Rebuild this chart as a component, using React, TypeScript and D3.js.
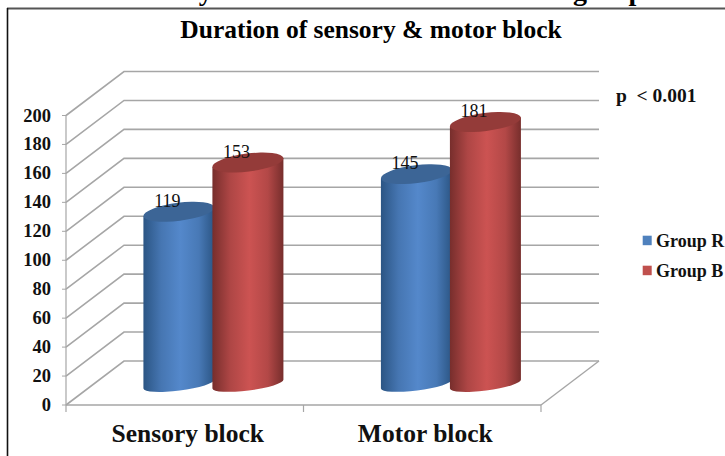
import * as d3 from 'd3'

const categories = ['Sensory block', 'Motor block']
const seriesNames = ['Group R', 'Group B']
const groupR = [119, 145]
const groupB = [153, 181]
const yTicks = [0, 20, 40, 60, 80, 100, 120, 140, 160, 180, 200]

const serif = '"Liberation Serif", serif'
const gridColor = '#a6a6a6'

// floor depth of the 3d box, and how far into it the cylinders stand
const depthX = 58
const depthY = 44
const barDepth = 0.477
const barWidth = 71
const tilt = 4.5
const capRy = 9
const bottomRy = 6.5

const x = d3.scaleBand().domain(categories).range([66, 541])
const y = d3.scaleLinear().domain([0, 200]).range([405, 115.5])

function cylinder(cx: number, top: number, bottom: number) {
  const left = cx - barWidth / 2
  const right = cx + barWidth / 2
  const rx = Math.hypot(barWidth / 2, tilt)
  const angle = (-Math.atan2(tilt, barWidth / 2) * 180) / Math.PI
  const capArc = `${rx} ${capRy} ${angle}`
  const bottomArc = `${rx} ${bottomRy} ${angle}`
  return {
    body: `M${left},${top + tilt} L${left},${bottom + tilt} A${bottomArc} 0 0 ${right},${bottom - tilt} L${right},${top - tilt} Z`,
    cap: `M${left},${top + tilt} A${capArc} 0 1 ${right},${top - tilt} A${capArc} 0 1 ${left},${top + tilt} Z`,
  }
}

const seriesStyles = [
  { values: groupR, edge: '#2b5584', mid: '#5488cb', cap: '#3c6596', key: '#4f81bd', shift: -33.5 },
  { values: groupB, edge: '#772e2c', mid: '#cc5352', cap: '#943b39', key: '#c0504d', shift: 35.5 },
]

export default function App() {
  const base = y(0) - depthY * barDepth
  const bandCenter = (c: string) => (x(c) ?? 0) + x.bandwidth() / 2 + depthX * barDepth

  return (
    <svg
      width={725}
      height={456}
      viewBox="0 0 725 456"
      style={{ position: 'absolute', left: 0, top: 0, display: 'block', background: '#fff' }}
      fontFamily={serif}
    >
      <defs>
        {seriesStyles.map((s, i) => (
          <linearGradient key={i} id={`cyl-${i}`} x1="0" x2="1" y1="0" y2="0">
            <stop offset="0%" stopColor={s.edge} />
            <stop offset="25%" stopColor={d3.interpolateRgb(s.edge, s.mid)(0.65)} />
            <stop offset="52%" stopColor={s.mid} />
            <stop offset="78%" stopColor={d3.interpolateRgb(s.edge, s.mid)(0.7)} />
            <stop offset="100%" stopColor={s.edge} />
          </linearGradient>
        ))}
      </defs>

      {/* caption of the page, cut off by the crop */}
      <text x={655} y={-0.5} textAnchor="end" fontSize={28} fontWeight="bold" fill="#000">
        Duration of sensory and motor block between the groups
      </text>

      {/* frame */}
      <line x1={7} x2={725} y1={8.5} y2={8.5} stroke="#555" strokeWidth={2} />
      <line x1={7.5} x2={7.5} y1={8} y2={456} stroke="#111" strokeWidth={1.6} />

      <text x={371} y={38} textAnchor="middle" fontSize={25.5} fontWeight="bold" fill="#000">
        Duration of sensory &amp; motor block
      </text>

      {/* walls */}
      {yTicks.map((t) => (
        <g key={t} fill="none" stroke={gridColor}>
          <polyline
            points={`${x.range()[0]},${y(t)} ${x.range()[0] + depthX},${y(t) - depthY} ${x.range()[1] + depthX},${y(t) - depthY}`}
            strokeWidth={1.6}
          />
          <line x1={x.range()[0] - 4} x2={x.range()[0]} y1={y(t)} y2={y(t)} strokeWidth={1} />
        </g>
      ))}
      <line x1={66} x2={66} y1={y(200)} y2={y(0) + 7} stroke={gridColor} strokeWidth={1.2} />
      <line x1={66} x2={541} y1={y(0)} y2={y(0)} stroke={gridColor} strokeWidth={1.6} />
      <line
        x1={x.range()[1]}
        x2={x.range()[1] + depthX}
        y1={y(0)}
        y2={y(0) - depthY}
        stroke={gridColor}
        strokeWidth={1.4}
      />
      {categories.map((c) => (
        <line
          key={c}
          x1={(x(c) ?? 0) + x.bandwidth()}
          x2={(x(c) ?? 0) + x.bandwidth()}
          y1={y(0)}
          y2={y(0) + 7}
          stroke={gridColor}
          strokeWidth={1.2}
        />
      ))}

      {yTicks.map((t) => (
        <text key={t} x={51} y={y(t) + 6} textAnchor="end" fontSize={18.5} fontWeight="bold" fill="#111">
          {t}
        </text>
      ))}

      {/* cylinders, blue first so red overlaps it */}
      {seriesStyles.map((s, i) =>
        categories.map((c, j) => {
          const cx = bandCenter(c) + s.shift
          const top = base - (y(0) - y(s.values[j]))
          const shape = cylinder(cx, top, base)
          return (
            <g key={`${i}-${c}`}>
              <path d={shape.body} fill={`url(#cyl-${i})`} />
              <path d={shape.cap} fill={s.cap} />
            </g>
          )
        }),
      )}

      {seriesStyles.map((s, i) =>
        categories.map((c, j) => (
          <text
            key={`${i}-${c}`}
            x={bandCenter(c) + s.shift - 11.5}
            y={base - (y(0) - y(s.values[j])) - 5}
            textAnchor="middle"
            fontSize={18}
            fill="#111"
          >
            {s.values[j]}
          </text>
        )),
      )}

      {categories.map((c) => (
        <text
          key={c}
          x={(x(c) ?? 0) + x.bandwidth() / 2 + 3}
          y={442}
          textAnchor="middle"
          fontSize={25.5}
          fontWeight="bold"
          fill="#111"
        >
          {c}
        </text>
      ))}

      <text x={616} y={102} fontSize={19.5} fontWeight="bold" fill="#111" xmlSpace="preserve">
        p  &lt; 0.001
      </text>

      {seriesNames.map((name, i) => (
        <g key={name}>
          <rect x={642.7} y={235.7 + i * 30} width={9} height={9.5} fill={seriesStyles[i].key} />
          <text x={656} y={246.5 + i * 30} fontSize={18} fontWeight="bold" fill="#111">
            {name}
          </text>
        </g>
      ))}
    </svg>
  )
}
